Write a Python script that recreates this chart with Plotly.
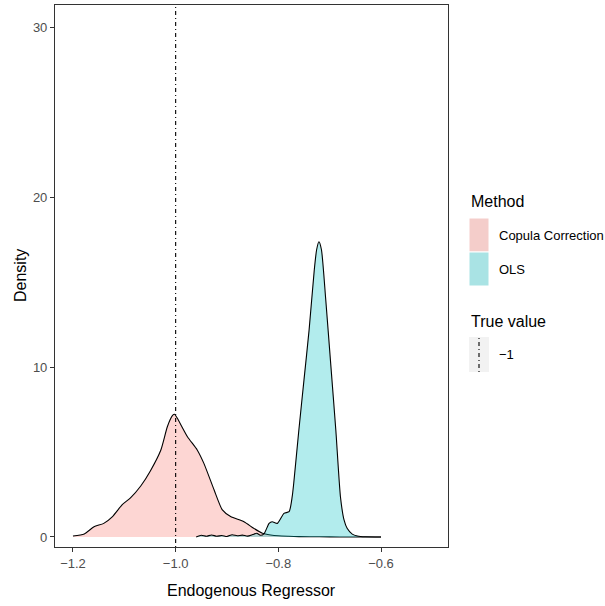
import plotly.graph_objects as go

# ---- data ----
copula_x = [-1.200, -1.178, -1.159, -1.140, -1.123, -1.104, -1.088, -1.068, -1.049, -1.029,
            -1.016, -1.006, -1.002, -0.997, -0.977, -0.958, -0.945, -0.925, -0.909, -0.893,
            -0.867, -0.848, -0.831, -0.815, -0.800, -0.780, -0.760, -0.720, -0.680, -0.640, -0.600]
copula_y = [0.06, 0.18, 0.60, 0.80, 1.20, 1.90, 2.30, 3.00, 3.90, 5.10,
            6.50, 7.15, 7.22, 7.00, 5.90, 5.12, 4.33, 2.76, 1.59, 1.20,
            0.90, 0.51, 0.22, 0.12, 0.07, 0.04, 0.02, 0.01, 0.00, 0.00, 0.00]

ols_x = [-0.960, -0.950, -0.940, -0.930, -0.920, -0.910, -0.900, -0.890, -0.880, -0.870,
         -0.860, -0.850, -0.842, -0.835, -0.828, -0.818, -0.812, -0.802, -0.789, -0.779,
         -0.773, -0.770, -0.760, -0.750, -0.740, -0.730, -0.7254, -0.7209, -0.716, -0.708,
         -0.698, -0.688, -0.679, -0.672, -0.666, -0.656, -0.646, -0.630, -0.600]
ols_y = [0.00, 0.10, 0.04, 0.12, 0.04, 0.09, 0.03, 0.13, 0.07, 0.11,
         0.05, 0.14, 0.22, 0.10, 0.18, 0.80, 0.90, 0.80, 1.39, 1.49,
         2.37, 3.16, 6.29, 9.24, 12.2, 15.7, 16.9, 17.37, 16.9, 14.1,
         10.2, 6.29, 2.37, 1.00, 0.51, 0.17, 0.06, 0.01, 0.00]

methods = ["Copula Correction", "OLS"]
true_value = -1
true_label = "\u22121"
x_ticks = [-1.2, -1.0, -0.8, -0.6]
x_tick_labels = ["\u22121.2", "\u22121.0", "\u22120.8", "\u22120.6"]
y_ticks = [0, 10, 20, 30]
y_tick_labels = ["0", "10", "20", "30"]

# ---- styling ----
W, H = 605, 606
L, R, T, B = 55, 448, 5, 547
FONT = "Liberation Sans, Arial, sans-serif"
fills = ["rgba(248,118,109,0.3)", "rgba(0,191,196,0.3)"]


def px(xp):
    return (xp - L) / (R - L)


def py(yp):
    return (B - yp) / (B - T)


fig = go.Figure()
for xs, ys, fc, name in [(copula_x, copula_y, fills[0], methods[0]),
                         (ols_x, ols_y, fills[1], methods[1])]:
    fig.add_trace(go.Scatter(x=xs, y=ys, mode="lines", fill="tozeroy", fillcolor=fc,
                             line=dict(color="black", width=1.1, shape="spline", smoothing=0.6),
                             name=name, showlegend=False, hoverinfo="skip"))

dash = "1px,3px,4px,3px"
fig.add_shape(type="line", xref="x", yref="paper", x0=true_value, x1=true_value, y0=0, y1=1,
              line=dict(color="black", width=1.1, dash=dash))

shapes = []
annotations = []
# Method legend
annotations.append(dict(text="Method", x=px(469), y=py(202), xref="paper", yref="paper",
                        xanchor="left", yanchor="middle", showarrow=False,
                        font=dict(size=16, color="black", family=FONT)))
key_tops = [218, 252]
for i, m in enumerate(methods):
    y0 = key_tops[i]
    shapes.append(dict(type="rect", xref="paper", yref="paper", x0=px(469), x1=px(489),
                       y0=py(y0 + 34), y1=py(y0), fillcolor="#F2F2F2", line=dict(width=0)))
    shapes.append(dict(type="rect", xref="paper", yref="paper", x0=px(469), x1=px(489),
                       y0=py(y0 + 34), y1=py(y0), fillcolor=fills[i],
                       line=dict(width=1, color="white")))
    annotations.append(dict(text=m, x=px(497), y=py(y0 + 17), xref="paper", yref="paper",
                            xanchor="left", yanchor="middle", showarrow=False,
                            font=dict(size=13, color="black", family=FONT)))
# True value legend
annotations.append(dict(text="True value", x=px(469), y=py(321), xref="paper", yref="paper",
                        xanchor="left", yanchor="middle", showarrow=False,
                        font=dict(size=16, color="black", family=FONT)))
shapes.append(dict(type="rect", xref="paper", yref="paper", x0=px(469), x1=px(489),
                   y0=py(372), y1=py(337), fillcolor="#F2F2F2", line=dict(width=0)))
shapes.append(dict(type="line", xref="paper", yref="paper", x0=px(479), x1=px(479),
                   y0=py(372), y1=py(337), line=dict(color="black", width=1.1, dash=dash)))
annotations.append(dict(text=true_label, x=px(497), y=py(354), xref="paper", yref="paper",
                        xanchor="left", yanchor="middle", showarrow=False,
                        font=dict(size=13, color="black", family=FONT)))
# Axis titles
annotations.append(dict(text="Endogenous Regressor", x=0.5, y=py(590), xref="paper", yref="paper",
                        xanchor="center", yanchor="middle", showarrow=False,
                        font=dict(size=16, color="black", family=FONT)))
annotations.append(dict(text="Density", x=px(20), y=0.5, xref="paper", yref="paper",
                        xanchor="center", yanchor="middle", showarrow=False, textangle=-90,
                        font=dict(size=16, color="black", family=FONT)))

for s in shapes:
    fig.add_shape(**s)

axis_common = dict(showgrid=False, zeroline=False, showline=True, mirror=True,
                   linecolor="#333333", linewidth=1.1, ticks="outside", ticklen=4,
                   tickcolor="#333333", tickwidth=1.1,
                   tickfont=dict(size=13, color="#4D4D4D", family=FONT))

fig.update_layout(
    width=W, height=H, margin=dict(l=L, r=W - R, t=T, b=H - B),
    paper_bgcolor="white", plot_bgcolor="white", showlegend=False,
    annotations=annotations,
    xaxis=dict(range=[-1.235, -0.4695], tickvals=x_ticks, ticktext=x_tick_labels, **axis_common),
    yaxis=dict(range=[-0.59, 31.3], tickvals=y_ticks, ticktext=y_tick_labels, **axis_common),
    font=dict(family=FONT),
)

fig.write_html("out.html", config={"displayModeBar": False},
               post_script="document.body.style.margin='0px';document.body.style.overflow='hidden';")
